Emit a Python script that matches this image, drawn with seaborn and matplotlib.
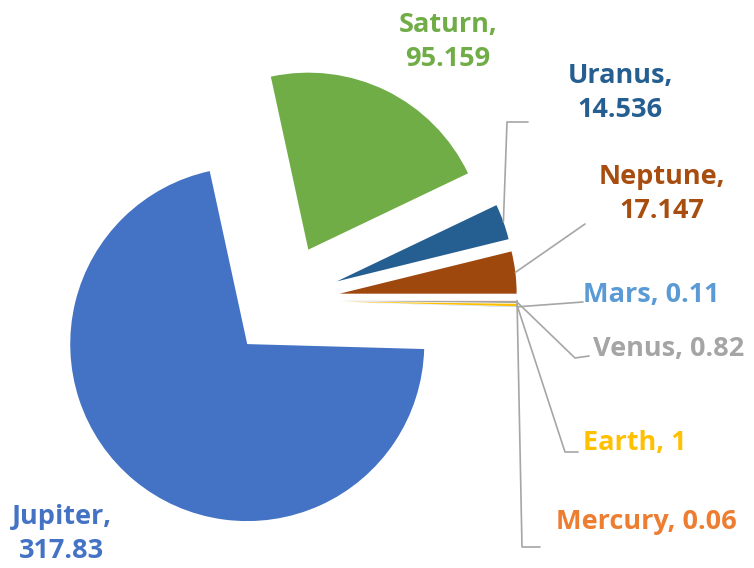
import numpy as np
import matplotlib
matplotlib.use("Agg")
import matplotlib.pyplot as plt
import seaborn as sns

# planet masses in earth masses
planets = ["Mercury", "Venus", "Earth", "Mars", "Jupiter", "Saturn", "Uranus", "Neptune"]
masses = [0.06, 0.82, 1, 0.11, 317.83, 95.159, 14.536, 17.147]
value_text = ["0.06", "0.82", "1", "0.11", "317.83", "95.159", "14.536", "17.147"]
two_line = [False, False, False, False, True, True, True, True]

slice_colors = ["#ED7D31", "#A5A5A5", "#FFC000", "#5B9BD5", "#4472C4", "#70AD47", "#255E91", "#9E480E"]
text_colors = ["#ED7D31", "#A5A5A5", "#FFC000", "#5B9BD5", "#4472C4", "#70AD47", "#255E91", "#A84D10"]

sns.set_theme(style="white")
plt.rcParams["font.family"] = ["Open Sans", "DejaVu Sans"]

# layout: pie centre / radius in image pixels (top-left origin)
cx, cy, scale = 283.4, 300.5, 177.0


def px(x, y):
    return (x - cx) / scale, (cy - y) / scale


# label anchor (pixels), alignment, leader line waypoints (pixels)
label_pos = [(556, 522), (593, 349), (583, 443), (583, 295), (62, 534), (448, 42), (620, 93), (662, 194)]
label_ha = ["left", "left", "left", "left", "center", "center", "center", "center"]
leader_pts = [
    [(522, 547), (540, 547)],
    [(575, 358), (589, 356)],
    [(565, 452), (578, 452)],
    [(583, 302)],
    None,
    None,
    [(507, 122), (528, 122)],
    [(585, 224)],
]

fig = plt.figure(figsize=(7.54, 5.68), dpi=100)
ax = fig.add_axes([0, 0, 1, 1])

wedges, _ = ax.pie(
    masses,
    colors=slice_colors,
    explode=[0.32] * len(masses),
    startangle=0,
    counterclock=False,
    radius=1,
    wedgeprops=dict(linewidth=0),
)

for i, w in enumerate(wedges):
    sep = ",\n" if two_line[i] else ", "
    x, y = px(*label_pos[i])
    ax.text(x, y, planets[i] + sep + value_text[i], color=text_colors[i],
            fontsize=19.5, fontweight="bold", ha=label_ha[i], va="center",
            linespacing=1.4)
    if leader_pts[i] is not None:
        mid = np.deg2rad((w.theta1 + w.theta2) / 2)
        sx = w.center[0] + w.r * np.cos(mid)
        sy = w.center[1] + w.r * np.sin(mid)
        pts = [(sx, sy)] + [px(*p) for p in leader_pts[i]]
        ax.plot([p[0] for p in pts], [p[1] for p in pts], color="#A6A6A6", lw=1.2)

ax.set_xlim(px(0, 0)[0], px(754, 0)[0])
ax.set_ylim(px(0, 568)[1], px(0, 0)[1])
ax.set_aspect("equal", adjustable="box")
ax.axis("off")

fig.savefig("out.png", dpi=100)
